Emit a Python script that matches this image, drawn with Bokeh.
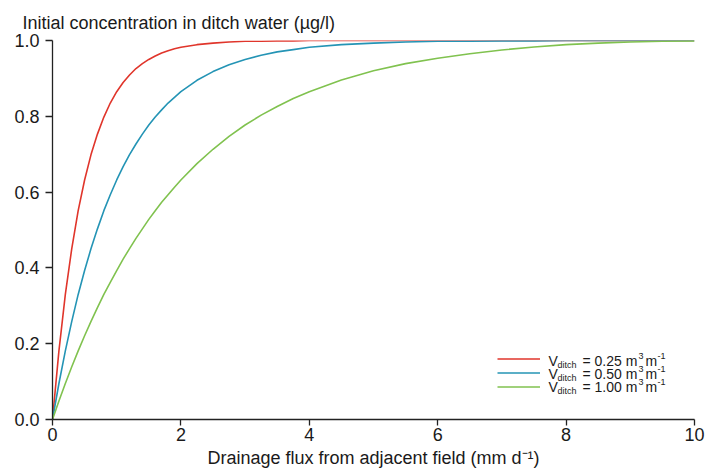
from bokeh.plotting import figure
from bokeh.models import Legend, LegendItem, Label, FixedTicker, NumeralTickFormatter, Range1d
from bokeh.embed import file_html
from bokeh.resources import INLINE

# Data
flux = [0, 0.1, 0.2, 0.3, 0.4, 0.5, 0.6, 0.7, 0.8, 0.9, 1.0, 1.1, 1.2, 1.3, 1.4, 1.5, 1.6,
        1.7, 1.8, 1.9, 2.0, 2.25, 2.5, 2.75, 3.0, 3.25, 3.5, 3.75, 4.0, 4.5, 5.0, 5.5, 6.0,
        6.5, 7.0, 7.5, 8.0, 8.5, 9.0, 9.5, 10.0]
conc_025 = [0, 0.181, 0.330, 0.451, 0.551, 0.632, 0.699, 0.753, 0.798, 0.835, 0.865, 0.889,
            0.909, 0.926, 0.939, 0.950, 0.959, 0.967, 0.973, 0.978, 0.982, 0.989, 0.993,
            0.996, 0.998, 0.998, 0.999, 0.999, 1.0, 1.0, 1.0, 1.0, 1.0, 1.0, 1.0, 1.0, 1.0,
            1.0, 1.0, 1.0, 1.0]
conc_050 = [0, 0.095, 0.181, 0.259, 0.330, 0.393, 0.451, 0.503, 0.551, 0.593, 0.632, 0.667,
            0.699, 0.727, 0.753, 0.777, 0.798, 0.817, 0.835, 0.850, 0.865, 0.895, 0.918,
            0.936, 0.950, 0.961, 0.970, 0.976, 0.982, 0.989, 0.993, 0.996, 0.998, 0.998,
            0.999, 0.999, 1.0, 1.0, 1.0, 1.0, 1.0]
conc_100 = [0, 0.049, 0.095, 0.139, 0.181, 0.221, 0.259, 0.295, 0.330, 0.362, 0.393, 0.423,
            0.451, 0.478, 0.503, 0.528, 0.551, 0.573, 0.593, 0.613, 0.632, 0.675, 0.713,
            0.747, 0.777, 0.803, 0.826, 0.847, 0.865, 0.896, 0.920, 0.939, 0.953, 0.965,
            0.975, 0.983, 0.989, 0.993, 0.996, 0.998, 0.999]
volumes = ["0.25", "0.50", "1.00"]
x_ticks = [0, 2, 4, 6, 8, 10]
y_ticks = [0.0, 0.2, 0.4, 0.6, 0.8, 1.0]

colors = ["#e0352b", "#2494b5", "#80c24f"]
FONT = "Liberation Sans"
FS = "18px"

p = figure(width=712, height=470, output_backend="svg", toolbar_location=None,
           x_range=Range1d(0, 10), y_range=Range1d(0, 1),
           min_border_left=52, min_border_right=18, min_border_top=40, min_border_bottom=51)
p.outline_line_color = None
p.xgrid.visible = False
p.ygrid.visible = False
p.background_fill_color = "white"
p.border_fill_color = "white"

p.title.text = "Initial concentration in ditch water (\u00b5g/l)"
p.title.align = "left"
p.title.offset = -30
p.title.text_font = FONT
p.title.text_font_size = FS
p.title.text_font_style = "normal"
p.title.text_color = "#1a1a1a"
p.title.standoff = 16

for ax in (p.xaxis[0], p.yaxis[0]):
    ax.axis_line_color = "#222222"
    ax.axis_line_width = 1.3
    ax.major_tick_line_color = "#222222"
    ax.major_tick_line_width = 1.3
    ax.major_tick_in = 0
    ax.minor_tick_line_color = None
    ax.major_label_text_font = FONT
    ax.major_label_text_font_size = FS
    ax.major_label_text_color = "#1a1a1a"

p.xaxis.ticker = FixedTicker(ticks=x_ticks)
p.yaxis.ticker = FixedTicker(ticks=y_ticks)
p.yaxis.formatter = NumeralTickFormatter(format="0.0")
p.xaxis.major_tick_out = 6
p.yaxis.major_tick_out = 7
p.xaxis.major_label_standoff = 2
p.yaxis.major_label_standoff = 6
p.xaxis.axis_label = "Drainage flux from adjacent field (mm d\u207b\u00b9)"
p.xaxis.axis_label_text_font = FONT
p.xaxis.axis_label_text_font_size = FS
p.xaxis.axis_label_text_font_style = "normal"
p.xaxis.axis_label_text_color = "#1a1a1a"
p.xaxis.axis_label_standoff = 4

series = [conc_025, conc_050, conc_100]
renderers = []
for ys, c in zip(series, colors):
    renderers.append(p.line(flux, ys, line_color=c, line_width=1.6))

legend = Legend(items=[LegendItem(label="V = " + v, renderers=[r]) for v, r in zip(volumes, renderers)],
                location=(445, 26), glyph_width=43, glyph_height=13, label_height=13,
                spacing=0, padding=0, margin=0, label_text_alpha=0,
                label_text_font_size="12px", background_fill_alpha=0, border_line_alpha=0)
p.add_layout(legend, "center")

# legend texts (rich formatting with sub/superscripts)
def dx(px):
    return (px - 52) / 64.2

def dy(py):
    return (419 - py) / 379.0

row_y = [360.7, 373.7, 386.7]
for v, ry in zip(volumes, row_y):
    pieces = [
        ("V", 548, ry, "14px"),
        ("ditch", 557, ry + 4, "9px"),
        ("= " + v + " m", 582, ry, "14px"),
        ("3", 638, ry - 5, "9px"),
        ("m", 645, ry, "14px"),
        ("-1", 657, ry - 5, "9px"),
    ]
    for t, px, py, fs in pieces:
        p.add_layout(Label(x=dx(px), y=dy(py), text=t, text_font=FONT, text_font_size=fs,
                           text_baseline="middle", text_align="left", text_color="#1a1a1a"))

open("out.html", "w").write(file_html(p, INLINE))
